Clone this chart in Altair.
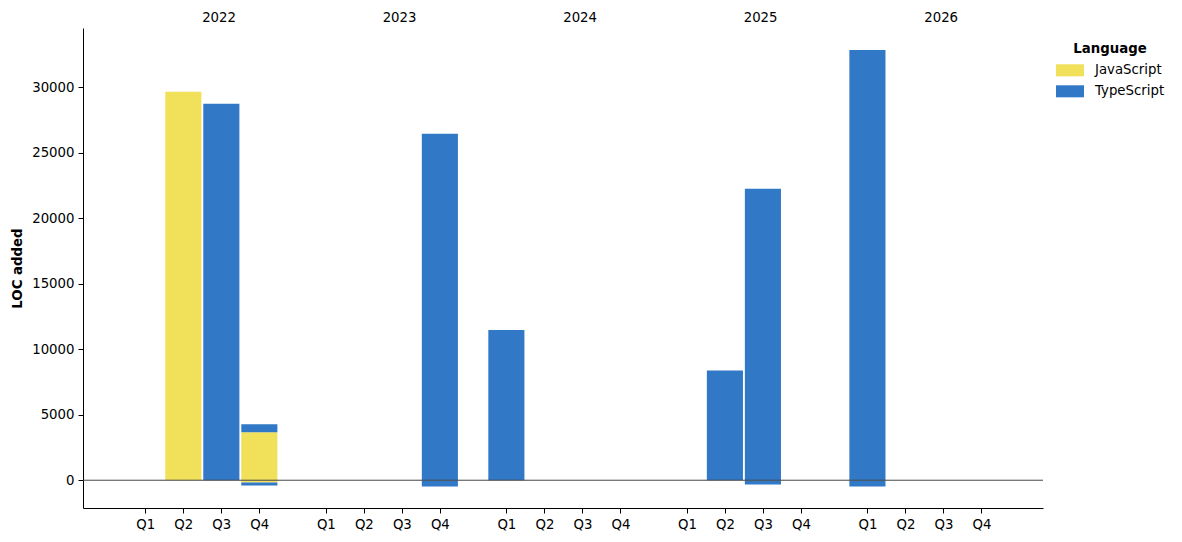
import altair as alt
import pandas as pd

years = ["2022", "2023", "2024", "2025", "2026"]
quarters = ["Q1", "Q2", "Q3", "Q4"]
languages = ["JavaScript", "TypeScript"]
colors = ["#F0E05A", "#3178C6"]

# lines added (positive) and removed (negative), per quarter, 2022 Q1 .. 2026 Q4
js_added = [0, 29650, 0, 3660,
            0, 0, 0, 0,
            0, 0, 0, 0,
            0, 0, 0, 0,
            0, 0, 0, 0]
ts_added = [0, 0, 28730, 610,
            0, 0, 0, 26440,
            11470, 0, 0, 0,
            0, 8370, 22250, 0,
            32850, 0, 0, 0]
js_removed = [0, 0, 0, -180,
              0, 0, 0, 0,
              0, 0, 0, 0,
              0, 0, 0, 0,
              0, 0, 0, 0]
ts_removed = [0, 0, 0, -230,
              0, 0, 0, -480,
              0, 0, 0, 0,
              0, 0, -330, 0,
              -480, 0, 0, 0]

rows = []
for lang, series in [("JavaScript", js_added), ("JavaScript", js_removed),
                     ("TypeScript", ts_added), ("TypeScript", ts_removed)]:
    for i, v in enumerate(series):
        if v != 0:
            rows.append({"year": years[i // 4], "quarter": quarters[i % 4],
                         "yi": i // 4, "qi": i % 4, "language": lang,
                         "order": languages.index(lang), "loc": v})
df = pd.DataFrame(rows)
year_df = pd.DataFrame({"year": years, "yi": list(range(len(years)))})
zero_df = pd.DataFrame({"y": [0]})

STEP = 4.75
FONT = "DejaVu Sans"
FS = 13.3

tick_pos = [yi * STEP + qi for yi in range(len(years)) for qi in range(len(quarters))]
xscale = alt.Scale(domain=[-1.64, 23.62], nice=False, zero=False)
yscale = alt.Scale(domain=[-2120, 34520], nice=False, zero=False)

bars = alt.Chart(df).transform_calculate(
    pos=f"datum.yi * {STEP} + datum.qi"
).transform_stack(
    stack="loc", groupby=["pos"], as_=["y0", "y1"],
    sort=[alt.SortField("order", order="ascending")]
).transform_calculate(
    xa="datum.pos - 0.475", xb="datum.pos + 0.475"
).mark_bar(stroke=None).encode(
    x=alt.X("xa:Q", scale=xscale, title=None,
            axis=alt.Axis(values=tick_pos, grid=False,
                          labelExpr="['Q1','Q2','Q3','Q4'][round(datum.value % 4.75)]")),
    x2="xb:Q",
    y=alt.Y("y0:Q", scale=yscale, title="LOC added",
            axis=alt.Axis(values=list(range(0, 30001, 5000)), format="d", grid=False,
                          titleFontWeight="bold", titlePadding=7)),
    y2="y1:Q",
    color=alt.Color("language:N", scale=alt.Scale(domain=languages, range=colors),
                    legend=alt.Legend(title="Language", orient="none", legendX=973, legendY=14,
                                      symbolType="M-1,-0.43L1,-0.43L1,0.43L-1,0.43Z",
                                      symbolSize=784, symbolStrokeWidth=0, symbolOpacity=1,
                                      labelOffset=11, rowPadding=0, titlePadding=1,
                                      titleAnchor="middle",
                                      titleFontWeight="bold", titleFontSize=FS,
                                      labelFontSize=FS, titleFont=FONT, labelFont=FONT,
                                      titleColor="black", labelColor="black")),
)

rule = alt.Chart(zero_df).mark_rule(color="#444444", strokeWidth=1).encode(
    y=alt.Y("y:Q", scale=yscale)
)

labels = alt.Chart(year_df).transform_calculate(
    xc=f"datum.yi * {STEP} + 1.94"
).mark_text(font=FONT, fontSize=FS, color="black", baseline="middle", align="center").encode(
    x=alt.X("xc:Q", scale=xscale),
    y=alt.value(-10),
    text="year:N",
)

chart = alt.layer(bars, rule, labels).properties(
    width=960, height=480,
    autosize=alt.AutoSizeParams(type="none"),
    padding={"left": 75, "top": 20, "right": 131, "bottom": 26},
).configure_view(stroke=None).configure_axis(
    labelFont=FONT, titleFont=FONT, labelFontSize=FS, titleFontSize=FS,
    labelColor="black", titleColor="black", domainColor="black", tickColor="black",
    tickSize=5, labelPadding=4, domainWidth=1, tickWidth=1,
)

chart.save("out.html", embed_options={"renderer": "svg", "actions": False})
